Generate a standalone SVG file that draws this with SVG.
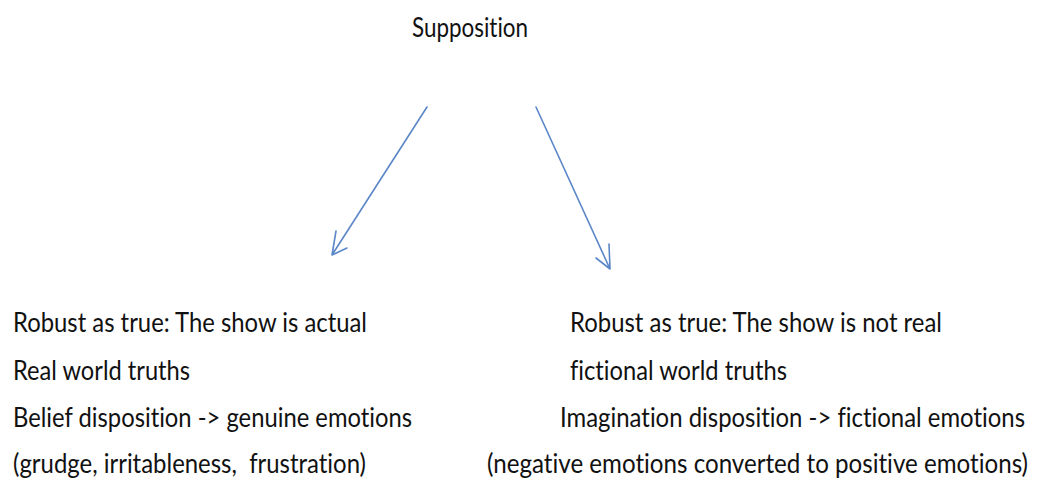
<svg xmlns="http://www.w3.org/2000/svg" width="1041" height="487" viewBox="0 0 1041 487">
<style>
text{font-family:"Lato","Liberation Sans",sans-serif;font-size:24px;fill:#111;font-variant-ligatures:none;}
.arr{stroke:#5b86c8;stroke-width:1.6;fill:none;stroke-linecap:round;stroke-linejoin:round;}
</style>
<rect width="1041" height="487" fill="#fff"/>
<g id="supposition"><text transform="translate(412,37) scale(1,1.12)" textLength="116" lengthAdjust="spacingAndGlyphs">Supposition</text></g>
<g id="connectors">
<path class="arr" d="M427,107 L332,255 M336,231 L332,255 L347,248"/>
<path class="arr" d="M536,107 L610,269 M609,244 L610,269 L596,258"/>
</g>
<g id="left">
<text transform="translate(13,332) scale(1,1.12)" textLength="354" lengthAdjust="spacingAndGlyphs">Robust as true: The show is actual</text>
<text transform="translate(13,380) scale(1,1.12)" textLength="177" lengthAdjust="spacingAndGlyphs">Real world truths</text>
<text transform="translate(13,427) scale(1,1.12)" textLength="399" lengthAdjust="spacingAndGlyphs">Belief disposition -&gt; genuine emotions</text>
<text transform="translate(13,473) scale(1,1.12)" textLength="353" lengthAdjust="spacingAndGlyphs" xml:space="preserve">(grudge, irritableness,  frustration)</text>
</g>
<g id="right">
<text transform="translate(570,332) scale(1,1.12)" textLength="372" lengthAdjust="spacingAndGlyphs">Robust as true: The show is not real</text>
<text transform="translate(570,380) scale(1,1.12)" textLength="217" lengthAdjust="spacingAndGlyphs">fictional world truths</text>
<text transform="translate(560,427) scale(1,1.12)" textLength="465" lengthAdjust="spacingAndGlyphs">Imagination disposition -&gt; fictional emotions</text>
<text transform="translate(487,473) scale(1,1.12)" textLength="541" lengthAdjust="spacingAndGlyphs">(negative emotions converted to positive emotions)</text>
</g>
</svg>
